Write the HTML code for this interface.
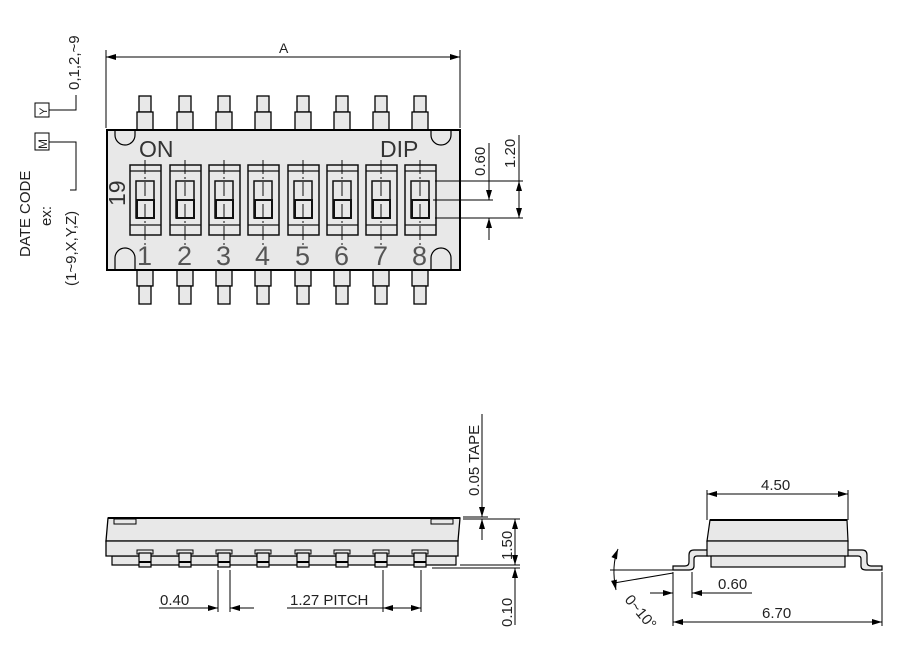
<!DOCTYPE html>
<html><head><meta charset="utf-8"><style>
html,body{margin:0;padding:0;background:#fff;}
svg{display:block;}
text{font-family:"Liberation Sans",sans-serif;fill:#222;}
</style></head><body>
<svg width="914" height="650" viewBox="0 0 914 650" xmlns="http://www.w3.org/2000/svg">
<defs>
<marker id="ar" viewBox="0 0 10 6" refX="10" refY="3" markerWidth="11" markerHeight="6" orient="auto-start-reverse" markerUnits="userSpaceOnUse"><path d="M0,0 L10,3 L0,6z" fill="#000"/></marker>
<g id="pt">
<rect x="-6" y="96" width="12" height="16" fill="#e8e8e8" stroke="#000" stroke-width="1.3"/>
<rect x="-8" y="112" width="16" height="18" fill="#e8e8e8" stroke="#000" stroke-width="1.3"/>
</g>
<g id="pb">
<rect x="-8" y="270" width="16" height="16" fill="#e8e8e8" stroke="#000" stroke-width="1.3"/>
<rect x="-6" y="286" width="12" height="18" fill="#e8e8e8" stroke="#000" stroke-width="1.3"/>
</g>
<g id="sw">
<rect x="-15" y="165" width="31" height="70" fill="none" stroke="#111" stroke-width="1.5"/>
<line x1="-15" y1="171" x2="16" y2="171" stroke="#111" stroke-width="1.3"/>
<line x1="-15" y1="225" x2="16" y2="225" stroke="#111" stroke-width="1.3"/>
<rect x="-9" y="181" width="18" height="37" fill="none" stroke="#111" stroke-width="1.5"/>
<rect x="-8" y="200" width="17" height="18" fill="none" stroke="#111" stroke-width="2"/>
<line x1="0" y1="160" x2="0" y2="245" stroke="#111" stroke-width="1" stroke-dasharray="14,3,2,3"/>
</g>
<g id="sp">
<path d="M-8,550 h16 v4 h-2 v-1 h-12 v1 h-2z" fill="#e8e8e8" stroke="#000" stroke-width="1"/>
<rect x="-6" y="553" width="12" height="14" fill="#e8e8e8" stroke="#000" stroke-width="1.2"/>
<line x1="-6" y1="562" x2="6" y2="562" stroke="#000" stroke-width="2"/>
</g>
</defs>

<!-- top view -->
<line x1="106" y1="50" x2="106" y2="128" stroke="#000"/>
<line x1="460" y1="50" x2="460" y2="128" stroke="#000"/>
<line x1="106" y1="57" x2="460" y2="57" stroke="#000" marker-start="url(#ar)" marker-end="url(#ar)"/>
<text x="279" y="53" font-size="14">A</text>

<use href="#pt" x="145"/><use href="#pt" x="185"/><use href="#pt" x="224"/><use href="#pt" x="263"/><use href="#pt" x="303"/><use href="#pt" x="342"/><use href="#pt" x="381"/><use href="#pt" x="420"/>
<use href="#pb" x="145"/><use href="#pb" x="185"/><use href="#pb" x="224"/><use href="#pb" x="263"/><use href="#pb" x="303"/><use href="#pb" x="342"/><use href="#pb" x="381"/><use href="#pb" x="420"/>

<rect x="107" y="130" width="353" height="140" fill="#e8e8e8" stroke="#000" stroke-width="2"/>
<path d="M115,130 v5 a10,10 0 0 0 20,0 v-5" fill="none" stroke="#000" stroke-width="1.2"/>
<path d="M115,270 v-12 a10,10 0 0 1 20,0 v12" fill="none" stroke="#000" stroke-width="1.2"/>
<path d="M431,130 v5 a10,10 0 0 0 20,0 v-5" fill="none" stroke="#000" stroke-width="1.2"/>
<path d="M431,270 v-12 a10,10 0 0 1 20,0 v12" fill="none" stroke="#000" stroke-width="1.2"/>
<text x="139" y="157" font-size="23" style="fill:#333">ON</text>
<text x="380" y="157" font-size="23" style="fill:#333">DIP</text>
<text transform="translate(125,206) rotate(-90)" font-size="23" style="fill:#333">19</text>

<use href="#sw" x="145"/><use href="#sw" x="185"/><use href="#sw" x="224"/><use href="#sw" x="263"/><use href="#sw" x="303"/><use href="#sw" x="342"/><use href="#sw" x="381"/><use href="#sw" x="420"/>
<g font-size="27">
<text x="137" y="265" style="fill:#555">1</text><text x="177" y="265" style="fill:#555">2</text><text x="216" y="265" style="fill:#555">3</text><text x="255" y="265" style="fill:#555">4</text><text x="295" y="265" style="fill:#555">5</text><text x="334" y="265" style="fill:#555">6</text><text x="373" y="265" style="fill:#555">7</text><text x="412" y="265" style="fill:#555">8</text>
</g>

<line x1="435" y1="181" x2="523" y2="181" stroke="#000"/>
<line x1="433" y1="200" x2="493" y2="200" stroke="#000"/>
<line x1="435" y1="218" x2="523" y2="218" stroke="#000"/>
<line x1="489" y1="143" x2="489" y2="200" stroke="#000" marker-end="url(#ar)"/>
<line x1="489" y1="240" x2="489" y2="218" stroke="#000" marker-end="url(#ar)"/>
<line x1="519" y1="135" x2="519" y2="218" stroke="#000" marker-end="url(#ar)"/>
<line x1="519" y1="200" x2="519" y2="181" stroke="#000" marker-end="url(#ar)"/>
<text transform="translate(485,176) rotate(-90)" font-size="15">0.60</text>
<text transform="translate(515,168) rotate(-90)" font-size="15">1.20</text>

<!-- date code -->
<rect x="35" y="103" width="14" height="14" fill="none" stroke="#000"/>
<text transform="translate(47,115) rotate(-90)" font-size="11">Y</text>
<path d="M49,110 H76 V95" fill="none" stroke="#000"/>
<text transform="translate(79,90) rotate(-90)" font-size="15">0,1,2,~9</text>
<rect x="35" y="133" width="14" height="17" fill="none" stroke="#000"/>
<text transform="translate(47,149) rotate(-90)" font-size="12">M</text>
<path d="M49,142 H76 V190 H70" fill="none" stroke="#000"/>
<text transform="translate(30,257) rotate(-90)" font-size="15">DATE  CODE</text>
<text transform="translate(51,226) rotate(-90)" font-size="15">ex:</text>
<text transform="translate(76,286) rotate(-90)" font-size="15">(1~9,X,Y,Z)</text>

<!-- side view -->
<path d="M108,518 H460 L458,541 H106z" fill="#e8e8e8" stroke="#000" stroke-width="1.3"/>
<line x1="108" y1="518" x2="460" y2="518" stroke="#000" stroke-width="2"/>
<rect x="114" y="519" width="22" height="5" fill="none" stroke="#000"/>
<rect x="431" y="519" width="22" height="5" fill="none" stroke="#000"/>
<path d="M112,556 H456 V565 H112z" fill="#e8e8e8" stroke="#000" stroke-width="1.2"/>
<path d="M106,541 H458 V556 H106z" fill="#e8e8e8" stroke="#000" stroke-width="1.3"/>
<use href="#sp" x="145"/><use href="#sp" x="185"/><use href="#sp" x="224"/><use href="#sp" x="263"/><use href="#sp" x="303"/><use href="#sp" x="342"/><use href="#sp" x="381"/><use href="#sp" x="420"/>

<line x1="218" y1="570" x2="218" y2="612" stroke="#000"/>
<line x1="230" y1="570" x2="230" y2="612" stroke="#000"/>
<line x1="159" y1="608" x2="218" y2="608" stroke="#000" marker-end="url(#ar)"/>
<line x1="254" y1="608" x2="230" y2="608" stroke="#000" marker-end="url(#ar)"/>
<text x="160" y="605" font-size="15">0.40</text>
<line x1="383" y1="570" x2="383" y2="612" stroke="#000"/>
<line x1="421" y1="570" x2="421" y2="612" stroke="#000"/>
<line x1="287" y1="608" x2="383" y2="608" stroke="#000"/>
<line x1="383" y1="608" x2="421" y2="608" stroke="#000" marker-end="url(#ar)" marker-start="url(#ar)"/>
<text x="290" y="605" font-size="15">1.27  PITCH</text>

<line x1="463" y1="517" x2="488" y2="517" stroke="#000"/>
<line x1="463" y1="519" x2="520" y2="519" stroke="#000"/>
<line x1="460" y1="565" x2="520" y2="565" stroke="#000"/>
<line x1="432" y1="568" x2="520" y2="568" stroke="#000"/>
<line x1="482" y1="414" x2="482" y2="517" stroke="#000" marker-end="url(#ar)"/>
<line x1="482" y1="540" x2="482" y2="519" stroke="#000" marker-end="url(#ar)"/>
<line x1="515" y1="519" x2="515" y2="565" stroke="#000" marker-start="url(#ar)" marker-end="url(#ar)"/>
<line x1="515" y1="625" x2="515" y2="568" stroke="#000" marker-end="url(#ar)"/>
<text transform="translate(479,496) rotate(-90)" font-size="15">0.05  TAPE</text>
<text transform="translate(512,560) rotate(-90)" font-size="15">1.50</text>
<text transform="translate(512,627) rotate(-90)" font-size="15">0.10</text>

<!-- end view -->
<path d="M673,570 L673,566 H685 Q689,566 689,562 V555 Q689,550 694,550 H708 V556 H697 Q694,556 694,559 V566 Q694,570 689,570z" fill="#e8e8e8" stroke="#000" stroke-width="1.2"/>
<path d="M882,570 L882,566 H871 Q867,566 867,562 V555 Q867,550 862,550 H847 V556 H858 Q861,556 861,559 V566 Q861,570 866,570z" fill="#e8e8e8" stroke="#000" stroke-width="1.2"/>
<path d="M710,520 H847 L848,541 H707z" fill="#e8e8e8" stroke="#000" stroke-width="1.2"/>
<line x1="710" y1="520" x2="847" y2="520" stroke="#000" stroke-width="2"/>
<rect x="707" y="541" width="141" height="15" fill="#e8e8e8" stroke="#000" stroke-width="1.2"/>
<rect x="711" y="556" width="134" height="11" fill="#e8e8e8" stroke="#000" stroke-width="1.2"/>
<line x1="707" y1="490" x2="707" y2="520" stroke="#000"/>
<line x1="848" y1="490" x2="848" y2="520" stroke="#000"/>
<line x1="707" y1="494" x2="848" y2="494" stroke="#000" marker-start="url(#ar)" marker-end="url(#ar)"/>
<text x="761" y="490" font-size="15">4.50</text>
<line x1="673" y1="572" x2="673" y2="626" stroke="#000"/>
<line x1="692" y1="572" x2="692" y2="598" stroke="#000"/>
<line x1="882" y1="572" x2="882" y2="626" stroke="#000"/>
<line x1="650" y1="593" x2="673" y2="593" stroke="#000" marker-end="url(#ar)"/>
<line x1="752" y1="593" x2="692" y2="593" stroke="#000" marker-end="url(#ar)"/>
<text x="718" y="589" font-size="15">0.60</text>
<line x1="673" y1="622" x2="882" y2="622" stroke="#000" marker-start="url(#ar)" marker-end="url(#ar)"/>
<text x="762" y="618" font-size="15">6.70</text>
<line x1="610" y1="570" x2="673" y2="570" stroke="#000"/>
<line x1="614" y1="583" x2="673" y2="573" stroke="#000"/>
<path d="M618,549 Q611,566 616,590" fill="none" stroke="#000" marker-start="url(#ar)" marker-end="url(#ar)"/>
<text transform="translate(624,600) rotate(50)" font-size="15">0~10°</text>
</svg>
</body></html>
